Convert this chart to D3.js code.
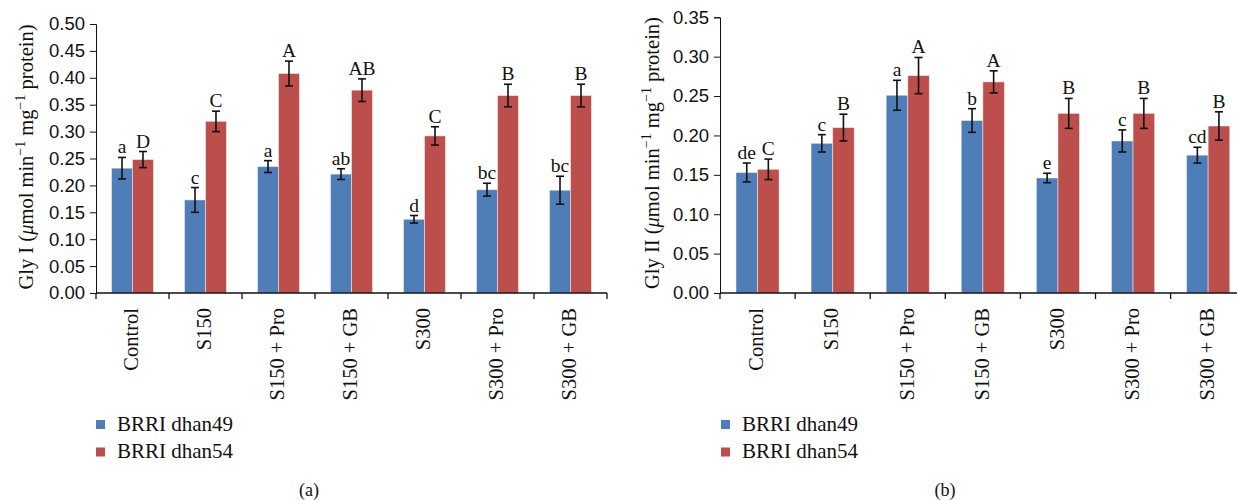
<!DOCTYPE html>
<html>
<head>
<meta charset="utf-8">
<script src="https://cdn.jsdelivr.net/npm/d3@7"></script>
<style>
  body { margin: 0; background: #fff; }
  svg { display: block; font-family: "Liberation Serif", "Times New Roman", serif; }
</style>
</head>
<body>
<svg width="1237" height="500"></svg>
<script>
// categories and series
var categories = ['Control', 'S150', 'S150 + Pro', 'S150 + GB', 'S300', 'S300 + Pro', 'S300 + GB'];
var series = ['BRRI dhan49', 'BRRI dhan54'];
var colors = ['#4f7db8', '#bc4f4c'];

// (a) Gly I
var glyI49 = [0.232, 0.173, 0.235, 0.221, 0.137, 0.192, 0.191];
var glyI49Err = [0.020, 0.023, 0.011, 0.010, 0.007, 0.012, 0.026];
var glyI54 = [0.248, 0.319, 0.408, 0.377, 0.292, 0.367, 0.367];
var glyI54Err = [0.015, 0.019, 0.023, 0.021, 0.017, 0.021, 0.021];
var glyI49Letters = ['a', 'c', 'a', 'ab', 'd', 'bc', 'bc'];
var glyI54Letters = ['D', 'C', 'A', 'AB', 'C', 'B', 'B'];
var glyITicks = [0, 0.05, 0.10, 0.15, 0.20, 0.25, 0.30, 0.35, 0.40, 0.45, 0.50];

// (b) Gly II
var glyII49 = [0.153, 0.190, 0.251, 0.219, 0.146, 0.193, 0.175];
var glyII49Err = [0.012, 0.011, 0.019, 0.015, 0.006, 0.014, 0.010];
var glyII54 = [0.157, 0.210, 0.276, 0.268, 0.228, 0.228, 0.212];
var glyII54Err = [0.013, 0.017, 0.023, 0.014, 0.019, 0.019, 0.018];
var glyII49Letters = ['de', 'c', 'a', 'b', 'e', 'c', 'cd'];
var glyII54Letters = ['C', 'B', 'A', 'A', 'B', 'B', 'B'];
var glyIITicks = [0, 0.05, 0.10, 0.15, 0.20, 0.25, 0.30, 0.35];

var svg = d3.select('svg');

function drawPanel(p) {
  var g = svg.append('g');

  var x0 = d3.scaleBand().domain(categories).range([p.left, p.right]);
  var x1 = d3.scaleBand().domain(series).range([0, x0.bandwidth()]).paddingOuter(0.74);
  var y = d3.scaleLinear().domain([0, p.max]).range([293, p.top]);

  // rows: one per category & series
  var rows = [];
  categories.forEach(function (c, i) {
    rows.push({ cat: c, s: series[0], v: p.v49[i], e: p.e49[i], l: p.l49[i], color: colors[0] });
    rows.push({ cat: c, s: series[1], v: p.v54[i], e: p.e54[i], l: p.l54[i], color: colors[1] });
  });

  g.selectAll('rect.bar')
    .data(rows)
    .enter()
    .append('rect')
    .attr('class', 'bar')
    .attr('x', function (d) { return x0(d.cat) + x1(d.s); })
    .attr('width', x1.bandwidth())
    .attr('y', function (d) { return y(d.v); })
    .attr('height', function (d) { return y(0) - y(d.v); })
    .attr('fill', function (d) { return d.color; })
    .attr('stroke', 'rgba(255,255,255,0.45)')
    .attr('stroke-width', 1);

  // error bars
  var eb = g.selectAll('g.err')
    .data(rows)
    .enter()
    .append('g')
    .attr('class', 'err')
    .attr('stroke', '#111')
    .attr('stroke-width', 1.6);
  function cx(d) { return x0(d.cat) + x1(d.s) + x1.bandwidth() / 2; }
  eb.append('line')
    .attr('x1', cx).attr('x2', cx)
    .attr('y1', function (d) { return y(d.v + d.e); })
    .attr('y2', function (d) { return y(d.v - d.e); });
  [1, -1].forEach(function (sgn) {
    eb.append('line')
      .attr('x1', function (d) { return cx(d) - 4; })
      .attr('x2', function (d) { return cx(d) + 4; })
      .attr('y1', function (d) { return y(d.v + sgn * d.e); })
      .attr('y2', function (d) { return y(d.v + sgn * d.e); });
  });

  // significance letters
  g.selectAll('text.letter')
    .data(rows)
    .enter()
    .append('text')
    .attr('class', 'letter')
    .attr('x', cx)
    .attr('y', function (d) { return y(d.v + d.e) - 4; })
    .attr('text-anchor', 'middle')
    .style('font-size', '19.5px')
    .attr('fill', '#111')
    .text(function (d) { return d.l; });

  // y axis
  var yAxis = g.append('g')
    .attr('transform', 'translate(' + p.left + ',0)')
    .call(d3.axisLeft(y).tickValues(p.ticks).tickFormat(d3.format('.2f')).tickSizeOuter(0).tickSize(6).tickPadding(5));
  yAxis.selectAll('text').style('font-size', '18.5px').attr('fill', '#111');
  yAxis.selectAll('line, path').attr('stroke', '#111');

  // x axis (ticks at band boundaries)
  var xa = g.append('g');
  xa.append('line')
    .attr('x1', p.left).attr('x2', Math.min(p.right, 1237))
    .attr('y1', 293).attr('y2', 293)
    .attr('stroke', '#111').attr('stroke-width', 1.3);
  var bounds = categories.map(function (c) { return x0(c); }).concat([p.right]);
  xa.selectAll('line.tick')
    .data(bounds)
    .enter()
    .append('line')
    .attr('class', 'tick')
    .attr('x1', function (d) { return d; }).attr('x2', function (d) { return d; })
    .attr('y1', 293).attr('y2', 299)
    .attr('stroke', '#111').attr('stroke-width', 1.3);
  xa.selectAll('text')
    .data(categories)
    .enter()
    .append('text')
    .attr('transform', function (d) {
      return 'translate(' + (x0(d) + x0.bandwidth() / 2 - 1) + ',308) rotate(-90)';
    })
    .attr('dy', '0.33em')
    .attr('text-anchor', 'end')
    .style('font-size', '20.5px')
    .attr('fill', '#111')
    .text(function (d) { return d; });

  // y title
  var t = g.append('text')
    .attr('transform', 'translate(' + p.titleX + ',' + p.titleY + ') rotate(-90)')
    .attr('text-anchor', 'middle')
    .attr('dy', '0.33em')
    .style('font-size', '20.5px')
    .attr('fill', '#111');
  t.append('tspan').text(p.title + ' (');
  t.append('tspan').style('font-style', 'italic').text('\u03bc');
  t.append('tspan').text('mol min');
  t.append('tspan').attr('dy', -8).style('font-size', '14px').text('\u22121');
  t.append('tspan').attr('dy', 8).text(' mg');
  t.append('tspan').attr('dy', -8).style('font-size', '14px').text('\u22121');
  t.append('tspan').attr('dy', 8).text(' protein)');

  // legend
  var lg = g.selectAll('g.legend')
    .data(series)
    .enter()
    .append('g')
    .attr('class', 'legend')
    .attr('transform', function (d, i) { return 'translate(' + p.legendX + ',' + (420 + i * 27.5) + ')'; });
  lg.append('rect')
    .attr('width', 9).attr('height', 9)
    .attr('fill', function (d, i) { return colors[i]; });
  lg.append('text')
    .attr('x', 21).attr('y', 10.5)
    .style('font-size', '21px')
    .attr('fill', '#111')
    .text(function (d) { return d; });

  // caption
  g.append('text')
    .attr('x', p.captionX).attr('y', 496)
    .attr('text-anchor', 'middle')
    .style('font-size', '18px')
    .attr('fill', '#111')
    .text(p.caption);
}

drawPanel({
  left: 96, right: 607, top: 24, max: 0.5, ticks: glyITicks,
  v49: glyI49, e49: glyI49Err, v54: glyI54, e54: glyI54Err,
  l49: glyI49Letters, l54: glyI54Letters,
  title: 'Gly I', titleX: 26, titleY: 157,
  legendX: 96, caption: '(a)', captionX: 309
});

drawPanel({
  left: 720, right: 1245.7, top: 17.3, max: 0.35, ticks: glyIITicks,
  v49: glyII49, e49: glyII49Err, v54: glyII54, e54: glyII54Err,
  l49: glyII49Letters, l54: glyII54Letters,
  title: 'Gly II', titleX: 652, titleY: 153,
  legendX: 721, caption: '(b)', captionX: 945
});
</script>
</body>
</html>
